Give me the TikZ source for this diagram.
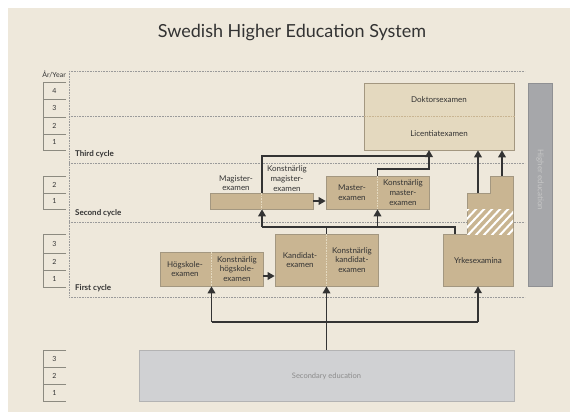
\documentclass[tikz,border=0pt]{standalone}
\usepackage{fontspec}
\setmainfont{Lato}
\usetikzlibrary{arrows.meta}
\definecolor{bg}{HTML}{EEE8DB}
\definecolor{tanfill}{HTML}{C9B592}
\definecolor{tanedge}{HTML}{A39780}
\definecolor{lighttan}{HTML}{E4D9BF}
\definecolor{ink}{HTML}{333333}
\definecolor{dotgrey}{HTML}{9A9A9A}
\definecolor{secgrey}{HTML}{D0D1D3}
\definecolor{secedge}{HTML}{B3B3B3}
\definecolor{hegrey}{HTML}{A6A7AA}
\definecolor{heedge}{HTML}{8F9093}
\definecolor{yeargrey}{HTML}{8C8A80}
\begin{document}
\begin{tikzpicture}[x=1pt,y=-1pt,
  exbox/.style={draw=tanedge,fill=tanfill,line width=0.6pt,inner sep=0pt},
  btxt/.style={text=ink,font=\fontsize{8}{9.6}\selectfont,align=center,inner sep=0pt},
  conn/.style={draw=ink,line width=1.8pt},
  arr/.style={conn,-{Triangle[length=7pt,width=7.5pt]}},
  gridline/.style={draw=dotgrey,line width=0.7pt,dash pattern=on 0.8pt off 0.8pt},
  divline/.style={draw=lighttan,line width=0.7pt,dash pattern=on 0.8pt off 0.8pt},
  yearbox/.style={draw=yeargrey,line width=0.7pt},
  yeartxt/.style={text=ink,font=\fontsize{7}{8}\selectfont,inner sep=0pt},
  cycletxt/.style={text=ink,font=\fontsize{8}{9}\selectfont\bfseries,anchor=west,inner sep=0pt}]
\useasboundingbox (0,0) rectangle (570,412);
\fill[white] (0,0) rectangle (570,412);
\fill[bg] (8,8) rectangle (570,412);

% title
\node[text=ink,font=\fontsize{18}{21}\selectfont,inner sep=0pt] (title) at (292,33) {Swedish Higher Education System};

% grid
\draw[gridline] (69,71) -- (525,71);
\draw[gridline] (69,71) -- (69,297);
\draw[gridline] (69,116) -- (364,116);
\draw[gridline] (69,163) -- (525,163);
\draw[gridline] (69,222) -- (525,222);
\draw[gridline] (69,297) -- (525,297);

% year column
\node[yeartxt,anchor=east] (yearlbl) at (66,74) {År/Year};
\foreach \t/\b/\n [count=\k] in {82/99/4,99/117/3,117/134/2,134/150/1,176/193/2,193/209/1,234/253/3,253/270/2,270/287/1,350/367/3,367/384/2,384/401/1}{
  \draw[yearbox] (66,\t) -- (43,\t) -- (43,\b) -- (66,\b);
  \node[yeartxt] (yr\k) at (54.5,{(\t+\b)/2}) {\n};
}

\node[cycletxt] (c3) at (75,154) {Third cycle};
\node[cycletxt] (c2) at (75,213) {Second cycle};
\node[cycletxt] (c1) at (75,288) {First cycle};

% higher education bar
\node[draw=heedge,fill=hegrey,line width=0.6pt,minimum width=24pt,minimum height=203pt,inner sep=0pt] (he) at (540,184.5) {};
\node[rotate=-90,text=black!22,font=\fontsize{8}{9}\selectfont,inner sep=0pt] (hetxt) at (540,180) {Higher education};

% secondary
\node[draw=secedge,fill=secgrey,line width=0.7pt,minimum width=375pt,minimum height=51pt,inner sep=0pt] (sec) at (326.5,375.5) {};
\node[text=black!45,font=\fontsize{7.5}{9}\selectfont,inner sep=0pt] (sectxt) at (326.5,376) {Secondary education};

% doktor
\node[draw=tanedge,fill=lighttan,line width=0.6pt,minimum width=150pt,minimum height=67pt,inner sep=0pt] (dok) at (439,116.5) {};
\draw[draw=tanfill,line width=0.6pt,dash pattern=on 0.8pt off 0.8pt] (dok.west) -- (dok.east);
\node[btxt] (doktxt) at (439,100) {Doktorsexamen};
\node[btxt] (lictxt) at (439,134) {Licentiatexamen};

% magister
\node[exbox,minimum width=103pt,minimum height=16pt] (mag) at (261.5,201) {};
\draw[divline] (mag.north) -- (mag.south);
\node[btxt] (magtxt) at (236,183) {Magister-\\examen};
\node[btxt] (kmagtxt) at (287,178.5) {Konstnärlig\\magister-\\examen};

% master
\node[exbox,minimum width=103pt,minimum height=33pt] (mas) at (377.5,192.5) {};
\draw[divline] (mas.north) -- (mas.south);
\node[btxt] (mastxt) at (352,192.5) {Master-\\examen};
\node[btxt] (kmastxt) at (403,192.5) {Konstnärlig\\master-\\examen};

% kandidat
\node[exbox,minimum width=103pt,minimum height=52pt] (kan) at (326.5,260) {};
\draw[divline] (kan.north) -- (kan.south);
\node[btxt] (kantxt) at (300,260) {Kandidat-\\examen};
\node[btxt] (kkantxt) at (352,260) {Konstnärlig\\kandidat-\\examen};

% hogskole
\node[exbox,minimum width=103pt,minimum height=34pt] (hog) at (211.5,269) {};
\draw[divline] (hog.north) -- (hog.south);
\node[btxt] (hogtxt) at (185,269) {Högskole-\\examen};
\node[btxt] (khogtxt) at (237,269) {Konstnärlig\\högskole-\\examen};

% yrkes
\draw[draw=tanedge,fill=tanfill,line width=0.6pt] (443,286) -- (443,234) -- (467,234) -- (467,193) -- (490,193) -- (490,176) -- (513,176) -- (513,286) -- cycle;
\begin{scope}
  \clip (467,209) rectangle (513,234);
  \foreach \i in {-32,-24,...,56} \draw[white,line width=2pt] (467+\i,236) -- (467+\i+27,207);
\end{scope}
\node[inner sep=0pt,minimum width=70pt,minimum height=52pt] (yrk) at (478,260) {};
\node[btxt] (yrktxt) at (478,261) {Yrkesexamina};
\coordinate (ystep1) at (478,193);
\coordinate (ystep2) at (502,176);

% connectors
\coordinate (sj) at (326.5,322);
\draw[conn] (sec.north) -- (sj);
\draw[conn] (hog.south |- sj) -- (yrk.south |- sj);
\draw[arr] (hog.south |- sj) -- (hog.south);
\draw[arr] (sj) -- (kan.south);
\draw[arr] (yrk.south |- sj) -- (yrk.south);

\draw[arr] (hog.east |- 0,276) -- (kan.west |- 0,276);

\coordinate (j2) at (262,227);
\draw[conn] (yrk.north -| 455,0) |- (j2);
\draw[arr] (j2) -- (mag.south -| j2);
\draw[conn] (kan.north) -- (kan.north |- j2);
\draw[arr] (mas.south |- j2) -- (mas.south);

\draw[arr] (mag.east) -- (mas.west |- mag.east);

\coordinate (d1) at (429,150);
\draw[arr] (mag.north -| j2) |- (d1 |- 0,156) -- (d1);
\draw[conn] (mas.north) |- (d1 |- 0,169) -- (d1 |- 0,155);
\draw[arr] (ystep1) -- (dok.south -| ystep1);
\draw[arr] (ystep2) -- (dok.south -| ystep2);
\end{tikzpicture}
\end{document}
